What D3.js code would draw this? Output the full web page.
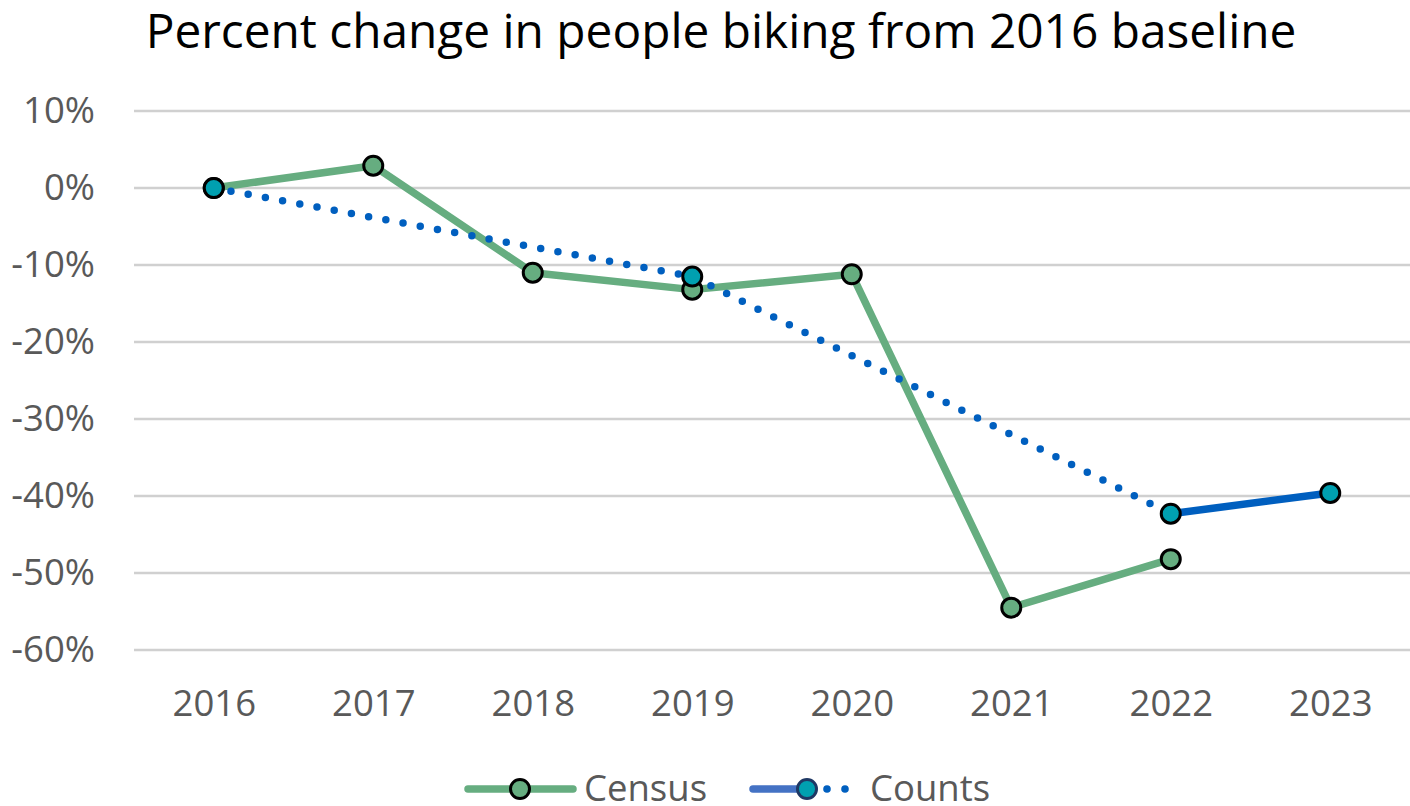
<!DOCTYPE html>
<html>
<head>
<meta charset="utf-8">
<script src="https://cdn.jsdelivr.net/npm/d3@7"></script>
<style>
  body { margin: 0; background: #fff; }
  text { font-family: "Open Sans", sans-serif; }
</style>
</head>
<body>
<div id="chart"></div>
<script>
const years = [2016, 2017, 2018, 2019, 2020, 2021, 2022, 2023];
const census = [0, 2.9, -11.0, -13.2, -11.2, -54.5, -48.2, null];
const counts = [0, null, null, -11.5, null, null, -42.3, -39.6];
const yTicks = [10, 0, -10, -20, -30, -40, -50, -60];

const W = 1410, H = 806;
const plot = { left: 134, right: 1410, top: 111, bottom: 650 };
const labelSize = 36.5;

const svg = d3.select("#chart").append("svg")
  .attr("width", W)
  .attr("height", H);

const x = d3.scalePoint()
  .domain(years)
  .range([plot.left, plot.right])
  .padding(0.5);

const y = d3.scaleLinear()
  .domain([-60, 10])
  .range([plot.bottom, plot.top]);

const green = "#66ad80";
const blue = "#005fbf";
const teal = "#00a0b0";

// title
svg.append("text")
  .attr("x", 721)
  .attr("y", 48)
  .attr("text-anchor", "middle")
  .attr("font-size", 47.8)
  .attr("fill", "#000")
  .text("Percent change in people biking from 2016 baseline");

// gridlines
svg.append("g")
  .selectAll("line")
  .data(yTicks)
  .join("line")
  .attr("x1", plot.left)
  .attr("x2", plot.right)
  .attr("y1", d => y(d))
  .attr("y2", d => y(d))
  .attr("stroke", "#d0d0d0")
  .attr("stroke-width", 2.5);

// y axis labels
const yAxis = svg.append("g")
  .attr("transform", "translate(95,0)")
  .call(d3.axisLeft(y).tickValues(yTicks).tickSize(0).tickPadding(0).tickFormat(d => d + "%"));
yAxis.select(".domain").remove();
yAxis.selectAll("text")
  .attr("font-family", "Open Sans")
  .attr("font-size", labelSize)
  .attr("fill", "#595959");

// x axis labels
const xAxis = svg.append("g")
  .attr("transform", `translate(0,${plot.bottom + 40})`)
  .call(d3.axisBottom(x).tickSize(0).tickPadding(0));
xAxis.select(".domain").remove();
xAxis.selectAll("text")
  .attr("font-family", "Open Sans")
  .attr("font-size", labelSize)
  .attr("fill", "#595959")
  .attr("dy", "0.71em");

const line = d3.line()
  .x(d => x(d.year))
  .y(d => y(d.v));

const censusPts = years.map((yr, i) => ({ year: yr, v: census[i] })).filter(d => d.v !== null);
const countsPts = years.map((yr, i) => ({ year: yr, v: counts[i] })).filter(d => d.v !== null);

// census
svg.append("path")
  .datum(censusPts)
  .attr("d", line)
  .attr("fill", "none")
  .attr("stroke", green)
  .attr("stroke-width", 7.5)
  .attr("stroke-linejoin", "round");

svg.append("g")
  .selectAll("circle")
  .data(censusPts)
  .join("circle")
  .attr("cx", d => x(d.year))
  .attr("cy", d => y(d.v))
  .attr("r", 9.5)
  .attr("fill", green)
  .attr("stroke", "#000")
  .attr("stroke-width", 3);

// counts: dotted up to 2022, solid after
svg.append("path")
  .datum(countsPts.filter(d => d.year <= 2022))
  .attr("d", line)
  .attr("fill", "none")
  .attr("stroke", blue)
  .attr("stroke-width", 7.5)
  .attr("stroke-linecap", "round")
  .attr("stroke-dasharray", "0 17.5");

svg.append("path")
  .datum(countsPts.filter(d => d.year >= 2022))
  .attr("d", line)
  .attr("fill", "none")
  .attr("stroke", blue)
  .attr("stroke-width", 7.5);

svg.append("g")
  .selectAll("circle")
  .data(countsPts)
  .join("circle")
  .attr("cx", d => x(d.year))
  .attr("cy", d => y(d.v))
  .attr("r", 9.5)
  .attr("fill", teal)
  .attr("stroke", "#000")
  .attr("stroke-width", 3);

// legend
const lg = svg.append("g").attr("transform", "translate(0,789)");

lg.append("line")
  .attr("x1", 468).attr("x2", 573)
  .attr("stroke", green).attr("stroke-width", 7.5).attr("stroke-linecap", "round");
lg.append("circle")
  .attr("cx", 520).attr("r", 9.5)
  .attr("fill", green).attr("stroke", "#000").attr("stroke-width", 3);
lg.append("text")
  .attr("x", 584).attr("y", 12)
  .attr("font-size", labelSize).attr("fill", "#595959")
  .text("Census");

lg.append("line")
  .attr("x1", 753).attr("x2", 800)
  .attr("stroke", "#4472c4").attr("stroke-width", 7.5).attr("stroke-linecap", "round");
lg.append("circle")
  .attr("cx", 807).attr("r", 9.5)
  .attr("fill", teal).attr("stroke", "#1f3864").attr("stroke-width", 3);
lg.selectAll(".dot")
  .data([827, 845])
  .join("circle")
  .attr("cx", d => d).attr("r", 3.8)
  .attr("fill", blue);
lg.append("text")
  .attr("x", 870).attr("y", 12)
  .attr("font-size", labelSize).attr("fill", "#595959")
  .text("Counts");
</script>
</body>
</html>
